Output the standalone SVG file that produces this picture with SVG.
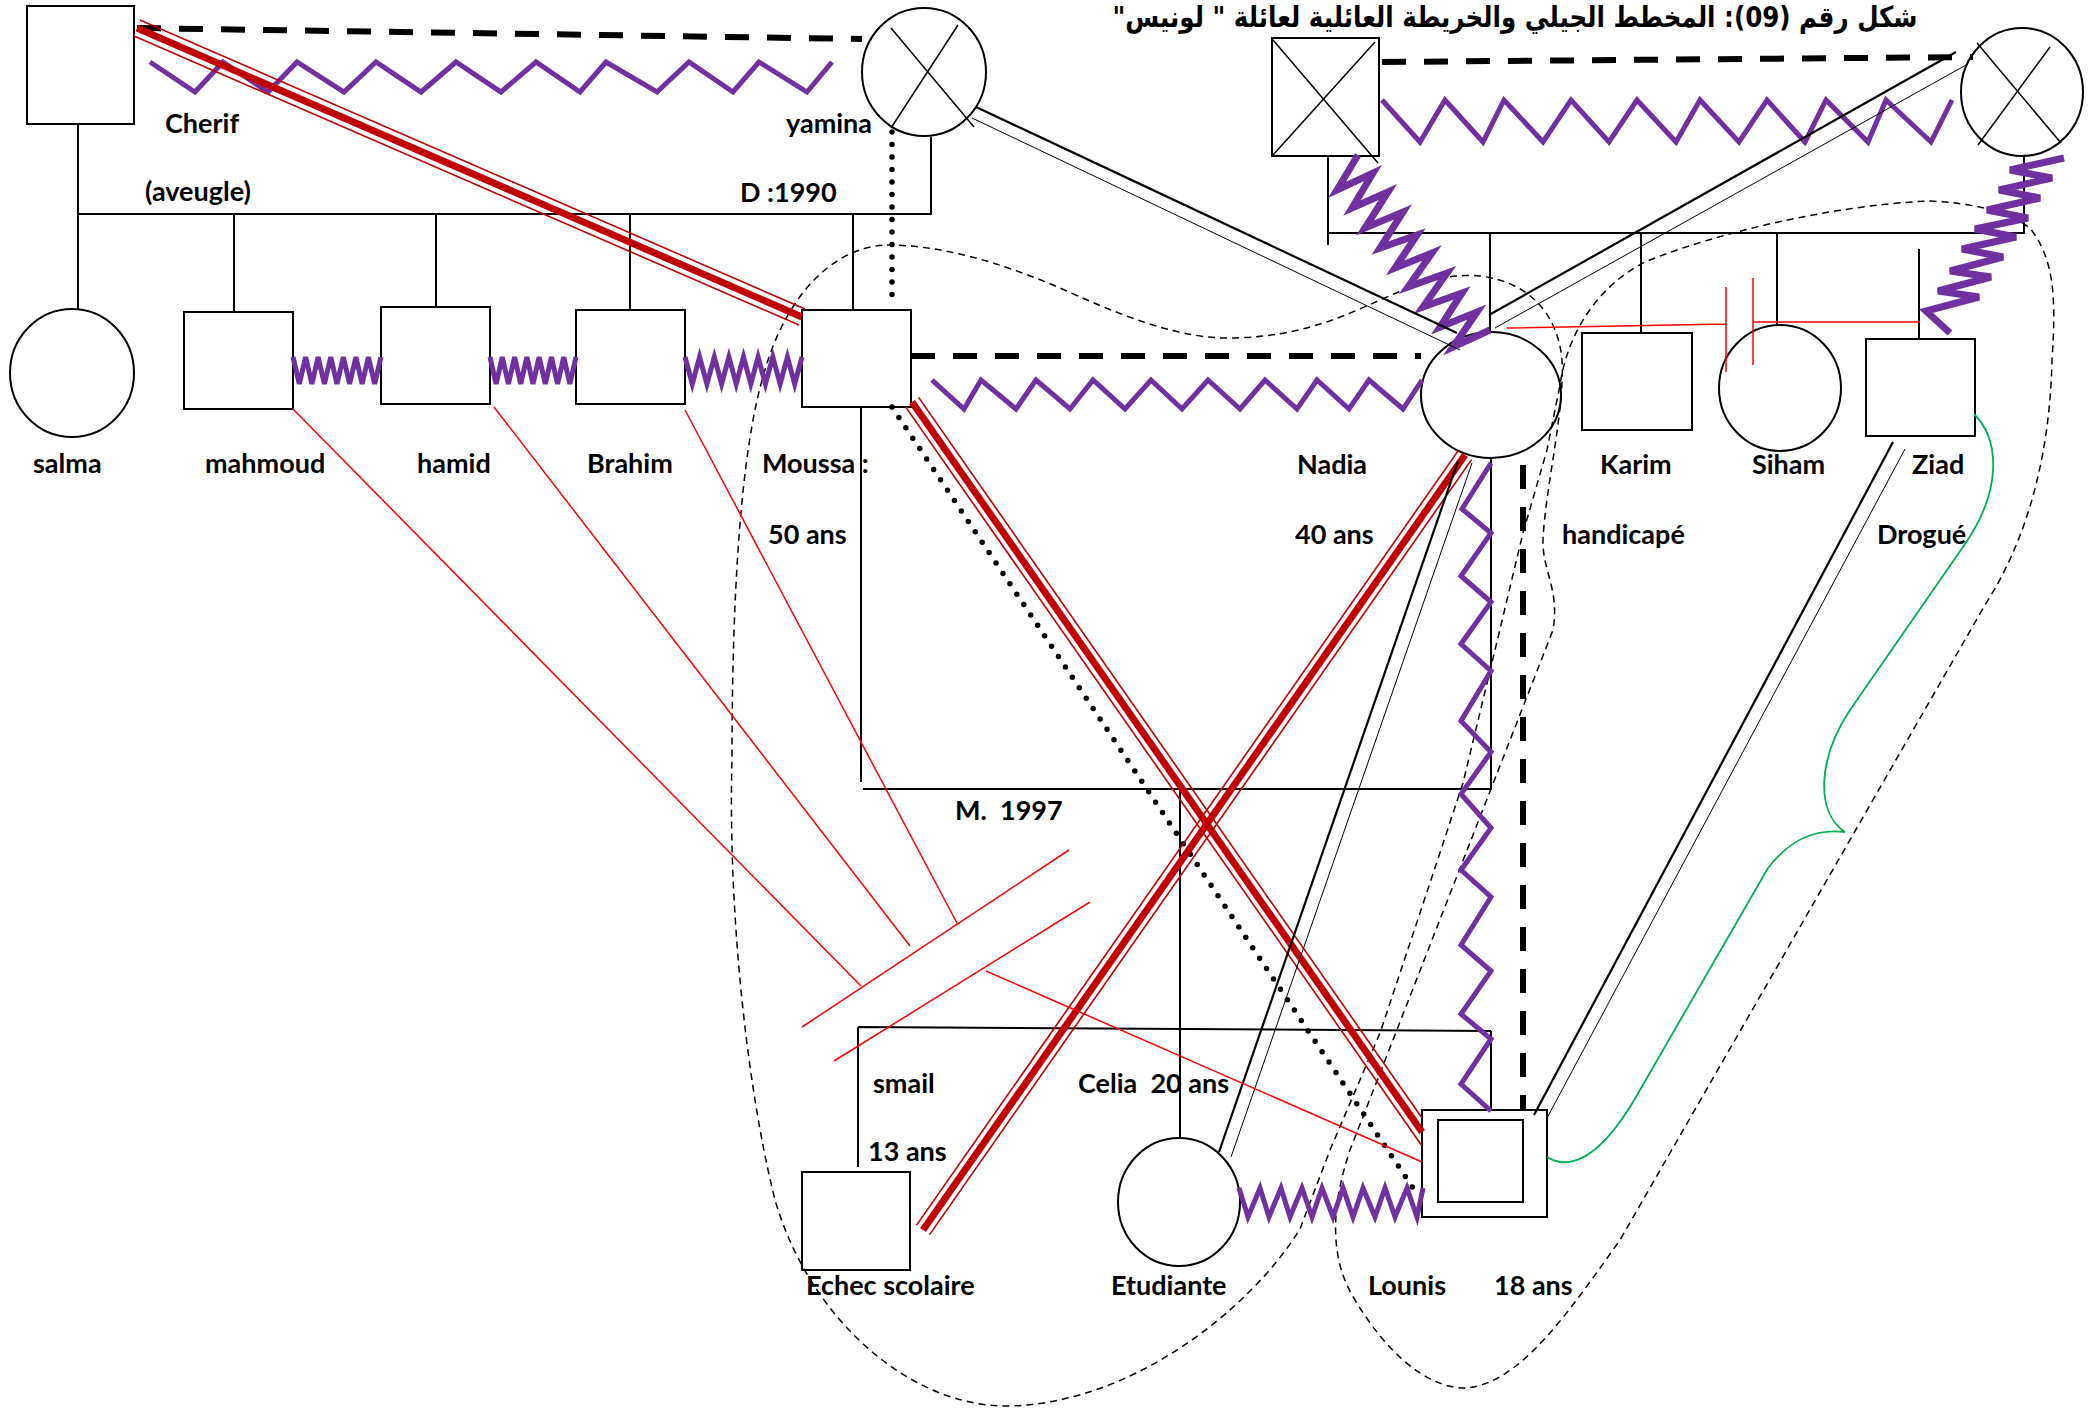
<svg xmlns="http://www.w3.org/2000/svg" width="2098" height="1410" viewBox="0 0 2098 1410">
<style>
.nd{fill:#fff;stroke:#000;stroke-width:2}
.x{stroke:#000;stroke-width:1.5;fill:none}
.lbl{font-family:Lato,"Liberation Sans",sans-serif;font-weight:700;font-size:27px;fill:#000;white-space:pre}
.fam{stroke:#000;stroke-width:2;fill:none}
.dash{stroke:#000;stroke-width:6;stroke-dasharray:24 18;fill:none}
.zz{stroke:#7030A0;fill:none;stroke-width:5}
.zt{stroke:#7030A0;fill:none;stroke-width:5}
.zw{stroke:#7030A0;fill:none;stroke-width:7}
.dot{stroke:#000;stroke-width:5.5;stroke-linecap:round;stroke-dasharray:0 12.5;fill:none}
.rc{stroke:#C00000;stroke-width:7}
.rt{stroke:#C00000;stroke-width:1.6}
.rr{stroke:#FF0000;stroke-width:1.5;fill:none}
.b2{stroke:#000;stroke-width:2.2}
.b1{stroke:#000;stroke-width:1}
.loop{stroke:#000;stroke-width:1.5;stroke-dasharray:7 5;fill:none}
.gr{stroke:#00B050;stroke-width:1.8;fill:none}
</style>
<rect width="2098" height="1410" fill="#fff"/>

<g id="title">
<text x="1515" y="27" text-anchor="middle" direction="rtl" font-family="'DejaVu Sans',sans-serif" font-weight="bold" font-size="29" textLength="805" lengthAdjust="spacingAndGlyphs">شكل رقم (09): المخطط الجيلي والخريطة العائلية لعائلة " لونيس"</text>
</g>

<g id="nodes">
<g id="cherif"><rect class="nd" x="27" y="6" width="107" height="118"/><text class="lbl" x="165" y="133">Cherif</text><text class="lbl" x="145" y="201">(aveugle)</text></g>
<g id="yamina"><ellipse class="nd" cx="924" cy="72" rx="62" ry="64"/><line class="x" x1="891" y1="28" x2="974" y2="127"/><line class="x" x1="958" y1="25" x2="891" y2="128"/><text class="lbl" x="786" y="133">yamina</text></g>
<g id="salma"><ellipse class="nd" cx="72" cy="373" rx="62" ry="64"/><text class="lbl" x="33" y="473">salma</text></g>
<g id="mahmoud"><rect class="nd" x="184" y="312" width="109" height="97"/><text class="lbl" x="205" y="473">mahmoud</text></g>
<g id="hamid"><rect class="nd" x="381" y="307" width="109" height="97"/><text class="lbl" x="417" y="473">hamid</text></g>
<g id="brahim"><rect class="nd" x="576" y="310" width="109" height="94"/><text class="lbl" x="587" y="473">Brahim</text></g>
<g id="moussa"><rect class="nd" x="802" y="310" width="109" height="97"/><text class="lbl" x="762" y="473">Moussa :</text><text class="lbl" x="768" y="544">50 ans</text></g>
<g id="grandpere"><rect class="nd" x="1272" y="38" width="107" height="118"/><line class="x" x1="1273" y1="40" x2="1378" y2="163"/><line class="x" x1="1375" y1="42" x2="1273" y2="155"/></g>
<g id="grandmere"><ellipse class="nd" cx="2022" cy="92" rx="61" ry="64"/><line class="x" x1="1977" y1="43" x2="2061" y2="143"/><line class="x" x1="2050" y1="47" x2="1978" y2="145"/></g>
<g id="nadia"><ellipse class="nd" cx="1491" cy="395" rx="70" ry="63"/><text class="lbl" x="1297" y="474">Nadia</text><text class="lbl" x="1295" y="544">40 ans</text></g>
<g id="karim"><rect class="nd" x="1582" y="333" width="110" height="97"/><text class="lbl" x="1600" y="474">Karim</text><text class="lbl" x="1562" y="544">handicapé</text></g>
<g id="siham"><ellipse class="nd" cx="1780" cy="388" rx="61" ry="63"/><text class="lbl" x="1752" y="474">Siham</text></g>
<g id="ziad"><rect class="nd" x="1866" y="339" width="109" height="97"/><text class="lbl" x="1912" y="474">Ziad</text><text class="lbl" x="1877" y="544">Drogué</text></g>
<g id="smail"><rect class="nd" x="802" y="1172" width="108" height="98"/><text class="lbl" x="873" y="1093">smail</text><text class="lbl" x="868" y="1161">13 ans</text><text class="lbl" x="806" y="1295">Echec scolaire</text></g>
<g id="celia"><ellipse class="nd" cx="1179" cy="1202" rx="61" ry="64"/><text class="lbl" x="1078" y="1093">Celia  20 ans</text><text class="lbl" x="1111" y="1295">Etudiante</text></g>
<g id="lounis"><rect class="nd" x="1422" y="1110" width="125" height="107" stroke-width="3"/><rect class="nd" x="1438" y="1120" width="85" height="82" stroke-width="2.5"/><text class="lbl" x="1368" y="1295">Lounis</text><text class="lbl" x="1494" y="1295">18 ans</text></g>
</g>

<g id="connectors">
<path class="loop" d="M887,245 C940,245 1000,262 1060,288 C1120,315 1180,340 1235,338 C1300,336 1340,318 1380,300 C1420,282 1450,273 1480,276 C1530,282 1558,315 1562,360 C1565,410 1545,490 1543,540 C1542,570 1560,590 1553,630 L1350,1150 C1330,1210 1330,1260 1355,1300 C1385,1350 1425,1388 1465,1388 C1520,1385 1570,1310 1620,1240 L1985,605 C2030,535 2050,450 2052,360 C2056,300 2055,260 2030,228 C2005,210 1970,203 1930,201 C1830,205 1710,235 1645,262 C1600,285 1568,330 1560,385 L1547,450 L1523,533 L1495,650 L1463,783 L1430,883 L1380,1033 L1330,1150 L1300,1229 C1250,1310 1130,1405 1006,1406 C910,1406 810,1320 775,1200 C745,1080 728,900 732,760 C732,600 740,450 765,370 C785,300 830,247 887,245 Z"/>

<path class="fam" d="M78,124 V214 H931 V137 M78,214 V309 M234,214 V312 M436,214 V307 M630,214 V310 M853,214 V310"/>
<path class="fam" d="M1328,156 V245 M1328,233 H2024 V157 M1490,233 V332 M1641,233 V333 M1777,233 V325 M1919,249 V339"/>
<path class="fam" d="M861,407 V782 M863,789 H1491 V458 M1180,789 V1137 M858,1027 L1491,1031 M858,1027 V1167 M1491,1031 V1110"/>
<text class="lbl" x="740" y="202">D :1990</text>
<text class="lbl" x="955" y="820">M.  1997</text>

<line class="dash" x1="137" y1="28" x2="862" y2="39"/>
<line class="dash" x1="1382" y1="62" x2="1973" y2="57"/>
<line class="dash" x1="911" y1="356" x2="1421" y2="356"/>
<line class="dash" x1="1523" y1="465" x2="1523" y2="1110"/>

<line class="dot" x1="892" y1="132" x2="892" y2="305"/>
<line class="dot" x1="892" y1="407" x2="1417" y2="1194"/>

<path class="zz" d="M150,62 L195,92 L223,62 L268,92 L297,62 L344,92 L376,62 L421,92 L456,62 L501,92 L536,62 L580,92 L606,62 L657,92 L689,62 L733,92 L759,62 L807,92 L832,62"/>
<path class="zz" d="M932,380 L964,409 L981,380 L1016,409 L1036,380 L1070,409 L1093,380 L1125,409 L1151,380 L1182,409 L1208,380 L1240,409 L1265,380 L1297,409 L1317,380 L1349,409 L1369,380 L1403,409 L1422,380"/>
<path class="zz" stroke-width="6" d="M1382,100 L1420,142 L1445,100 L1483,142 L1504,100 L1543,142 L1571,100 L1609,142 L1637,100 L1676,142 L1700,100 L1739,142 L1767,100 L1805,142 L1826,100 L1868,142 L1886,100 L1931,142 L1952,100"/>
<path class="zz" d="M1491,463 L1462,509 L1491,533 L1461,576 L1491,602 L1461,644 L1491,671 L1461,721 L1491,752 L1461,794 L1491,828 L1461,870 L1491,897 L1461,945 L1491,971 L1461,1014 L1491,1039 L1461,1084 L1491,1111"/>
<path class="zt" d="M1239,1188 L1248,1217 L1260,1188 L1269,1217 L1281,1188 L1290,1217 L1302,1188 L1312,1217 L1322,1188 L1333,1217 L1343,1188 L1353,1217 L1363,1188 L1375,1217 L1385,1188 L1395,1217 L1407,1188 L1417,1217 L1423,1188"/>
<path class="zt" d="M293,357 L299.3,384 L305.6,357 L311.9,384 L318.1,357 L324.4,384 L330.7,357 L337,384 L343.3,357 L349.6,384 L355.9,357 L362.1,384 L368.4,357 L374.7,384 L381,357"/>
<path class="zt" d="M490,357 L496.1,384 L502.3,357 L508.4,384 L514.6,357 L520.7,384 L526.9,357 L533,384 L539.1,357 L545.3,384 L551.4,357 L557.6,384 L563.7,357 L569.9,384 L576,357"/>
<path class="zt" d="M685,357 L692.3,384 L699.6,357 L706.9,384 L714.3,357 L721.6,384 L728.9,357 L736.2,384 L743.5,357 L750.8,384 L758.1,357 L765.4,384 L772.8,357 L780.1,384 L787.4,357 L794.7,384 L802,357"/>
<path class="zw" d="M1358,155 L1337,190 L1373,173 L1352,208 L1388,192 L1365,228 L1403,212 L1380,248 L1417,235 L1395,268 L1432,253 L1408,287 L1447,273 L1423,307 L1462,293 L1440,327 L1477,312 L1453,347 L1490,330"/>
<path class="zw" d="M2064,158 L2010,170 L2052,178 L1999,190 L2040,198 L1987,210 L2028,218 L1975,229 L2016,237 L1962,249 L2003,257 L1950,271 L1991,277 L1938,291 L1979,297 L1926,311 L1950,333"/>

<line class="rc" x1="137" y1="28" x2="802" y2="317"/>
<line class="rt" x1="140" y1="20" x2="805" y2="309"/>
<line class="rt" x1="134" y1="36" x2="799" y2="325"/>
<line class="rc" x1="912" y1="402" x2="1422" y2="1132"/>
<line class="rt" x1="918.6" y1="397.4" x2="1422" y2="1118"/>
<line class="rt" x1="905.4" y1="406.6" x2="1422" y2="1146"/>
<line class="rc" x1="1465" y1="455" x2="923" y2="1230"/>
<line class="rt" x1="1471.6" y1="459.6" x2="929.6" y2="1234.6"/>
<line class="rt" x1="1458.4" y1="450.4" x2="916.4" y2="1225.4"/>

<line class="b2" x1="976" y1="107" x2="1457" y2="333"/>
<line class="b1" x1="972" y1="118" x2="1460" y2="350"/>
<line class="b2" x1="1956" y1="52" x2="1489" y2="315"/>
<line class="b1" x1="1966" y1="65" x2="1495" y2="328"/>
<line class="b2" x1="1458" y1="461" x2="1219" y2="1152"/>
<line class="b1" x1="1472" y1="463" x2="1231" y2="1157"/>
<line class="b2" x1="1893" y1="442" x2="1534" y2="1115"/>
<line class="b1" x1="1905" y1="449" x2="1547" y2="1118"/>

<line class="rr" x1="293" y1="409" x2="861" y2="986"/>
<line class="rr" x1="494" y1="407" x2="910" y2="946"/>
<line class="rr" x1="685" y1="410" x2="958" y2="925"/>
<line class="rr" x1="802" y1="1027" x2="1069" y2="850"/>
<line class="rr" x1="834" y1="1061" x2="1090" y2="902"/>
<line class="rr" x1="986" y1="971" x2="1422" y2="1162"/>
<path class="rr" stroke-width="2" d="M1507,328 L1726,324 M1726,287 V372 M1753,278 V365 M1753,322 H1920"/>

<path class="gr" d="M1974,414 C2000,440 2002,490 1965,544 L1850,710 C1818,758 1815,812 1845,832 C1812,828 1788,842 1768,868 L1640,1090 C1612,1140 1585,1165 1560,1162 C1553,1161 1550,1159 1547,1157"/>
</g>
</svg>
